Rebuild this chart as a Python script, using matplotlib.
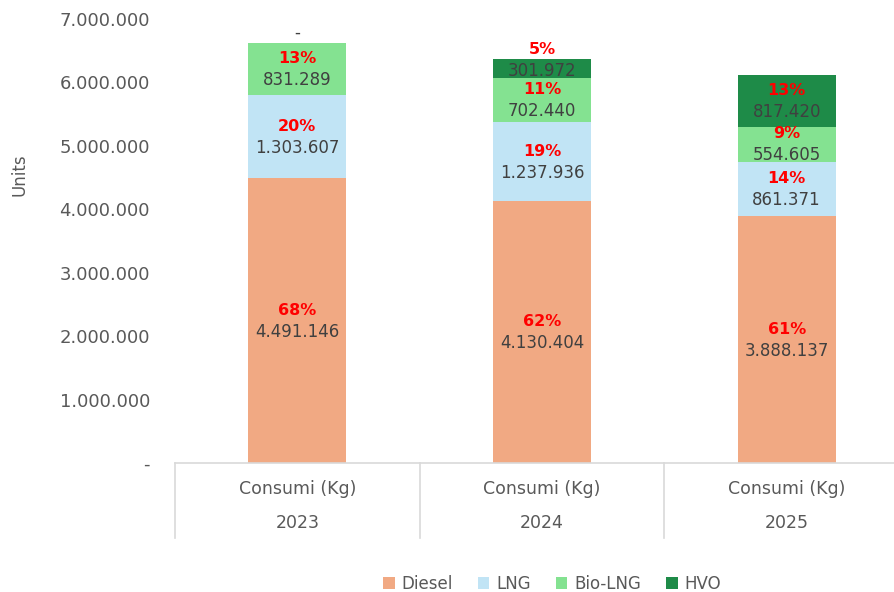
import matplotlib.pyplot as plt
import numpy as np
from matplotlib.patches import Patch
from matplotlib.ticker import FuncFormatter

plt.rcParams['font.family'] = ['DejaVu Sans']

years = ['2023', '2024', '2025']
category = 'Consumi (Kg)'
fuels = ['Diesel', 'LNG', 'Bio-LNG', 'HVO']
colors = ['#F1A983', '#C1E4F5', '#84E291', '#1E8B48']

diesel = [4491146, 4130404, 3888137]
lng = [1303607, 1237936, 861371]
bio_lng = [831289, 702440, 554605]
hvo = [0, 301972, 817420]

# percentage labels as shown on the chart
pct_diesel = [68, 62, 61]
pct_lng = [20, 19, 14]
pct_bio_lng = [13, 11, 9]
pct_hvo = [0, 5, 13]

yticks = [0, 1000000, 2000000, 3000000, 4000000, 5000000, 6000000, 7000000]

W, H = 894, 592
fig = plt.figure(figsize=(W / 100, H / 100), dpi=100)
ax_l, ax_r, ax_t, ax_b = 175, 909, 19, 463
ax = fig.add_axes([ax_l / W, 1 - ax_b / H, (ax_r - ax_l) / W, (ax_b - ax_t) / H])

px_per_unit = (ax_b - ax_t) / 7000000
x = np.arange(len(years))
series = [diesel, lng, bio_lng, hvo]
pcts = [pct_diesel, pct_lng, pct_bio_lng, pct_hvo]
bottom = np.zeros(len(years))

def fmt(v):
    return f'{int(round(v)):,}'.replace(',', '.')

for vals, pc, col in zip(series, pcts, colors):
    vals = np.array(vals, dtype=float)
    ax.bar(x, vals, bottom=bottom, width=0.4, color=col, edgecolor='none')
    for i, v in enumerate(vals):
        centre = bottom[i] + v / 2
        if v == 0:
            ax.annotate('-', (x[i], bottom[i]), xytext=(0, 7), textcoords='offset points',
                        ha='center', va='center', fontsize=12, color='#404040')
            continue
        seg_px = v * px_per_unit
        shift = 0 if seg_px >= 30 else 6
        ax.annotate(f'{pc[i]}%', (x[i], centre), xytext=(0, 7.5 + shift), textcoords='offset points',
                    ha='center', va='center', fontsize=11.5, fontweight='bold', color='#FF0000')
        ax.annotate(fmt(v), (x[i], centre), xytext=(0, -8 + shift), textcoords='offset points',
                    ha='center', va='center', fontsize=12, color='#404040')
    bottom += vals

ax.set_xlim(-0.5, 2.5)
ax.set_ylim(0, 7000000)
ax.set_yticks(yticks)
ax.yaxis.set_major_formatter(FuncFormatter(lambda v, p: '-' if v == 0 else fmt(v)))
ax.tick_params(axis='y', length=0, pad=18, labelsize=13, labelcolor='#595959')
ax.set_xticks([])
for s in ax.spines.values():
    s.set_visible(False)

# hierarchical category axis
trans = ax.get_xaxis_transform()
ax_h = ax_b - ax_t
ax.plot([-0.5, 2.5], [0, 0], transform=trans, color='#D9D9D9', lw=1.2, clip_on=False)
for xb in [-0.5, 0.5, 1.5, 2.5]:
    ax.plot([xb, xb], [0, -75 / ax_h], transform=trans, color='#D9D9D9', lw=1.2, clip_on=False)
for i, yr in enumerate(years):
    ax.text(x[i], -26 / ax_h, category, transform=trans, ha='center', va='center',
            fontsize=12.5, color='#595959')
    ax.text(x[i], -60 / ax_h, yr, transform=trans, ha='center', va='center',
            fontsize=12.5, color='#595959')

fig.text(20 / W, 1 - 175 / H, 'Units', rotation=90, ha='center', va='center',
         fontsize=12, color='#595959')

handles = [Patch(facecolor=c, edgecolor='none') for c in colors]
fig.legend(handles, fuels, loc='center', bbox_to_anchor=(552 / W, 1 - 584 / H), ncol=4,
           frameon=False, fontsize=12, labelcolor='#595959', handlelength=0.7,
           handleheight=0.7, handletextpad=0.4, columnspacing=1.5)

fig.savefig('out.png', dpi=100)
